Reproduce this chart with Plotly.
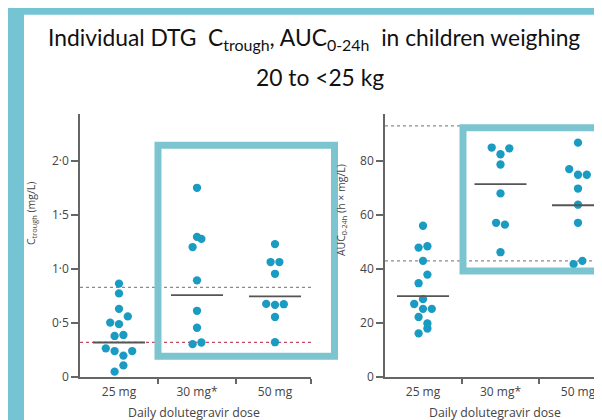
import numpy as np
import plotly.graph_objects as go

# ---------------- data ----------------
doses = ["25 mg", "30 mg*", "50 mg"]

ctrough_25 = [0.048, 0.106, 0.264, 0.239, 0.197, 0.239, 0.379, 0.388, 0.503, 0.488, 0.56, 0.63, 0.773, 0.864]
ctrough_30 = [0.303, 0.318, 0.455, 0.612, 0.894, 1.203, 1.279, 1.297, 1.752]
ctrough_50 = [0.321, 0.555, 0.676, 0.667, 0.673, 0.955, 1.064, 1.064, 1.230]
ctrough_gm = [0.318, 0.757, 0.745]          # geometric means (horizontal bars)
ctrough_refs = [0.83, 0.32]                 # reference lines (grey, red)

auc_25 = [16.1, 17.9, 22.2, 19.8, 27.0, 25.2, 25.2, 28.8, 34.7, 37.9, 43.0, 47.9, 48.4, 56.0]
auc_30 = [46.2, 57.1, 56.4, 68.0, 78.7, 85.0, 82.5, 84.7]
auc_50 = [41.8, 43.0, 57.1, 63.8, 69.8, 77.0, 74.9, 74.9, 86.8]
auc_gm = [29.9, 71.4, 63.6]
auc_refs = [93.0, 43.0]

ctrough_ticks = [0, 0.5, 1.0, 1.5, 2.0]
ctrough_ticktext = ["0", "0·5", "1·0", "1·5", "2·0"]
auc_ticks = [0, 20, 40, 60, 80]
auc_ticktext = ["0", "20", "40", "60", "80"]

# ---------------- layout constants (pixels) ----------------
W, H = 602, 420
Y_TOP, Y_BOT = 108, 376
L_X0, L_X1, L_C0, L_UNIT = 72, 303, 111, 78.0
R_X0, R_X1, R_C0, R_UNIT = 377, 602, 415, 77.5
L_YMAX = 2.4364
R_YMAX = 97.45

DOT = "#1a9bc1"
BOX = "#7cc5d0"
AXIS = "#666666"
TXT = "#444444"
FONT = "Open Sans"


def px(x):
    return x / W


def py(y):
    return 1 - y / H


def swarm(values, px_per_val, px_per_cat, thr_px=9.3, step_px=8.8):
    v = np.asarray(values, dtype=float)
    order = np.argsort(v, kind="stable")
    groups, cur = [], [order[0]]
    for idx in order[1:]:
        if (v[idx] - v[cur[0]]) * px_per_val <= thr_px:
            cur.append(idx)
        else:
            groups.append(cur)
            cur = [idx]
    groups.append(cur)
    off = np.zeros(len(v))
    for g in groups:
        g = sorted(g)
        n = len(g)
        for k, idx in enumerate(g):
            off[idx] = (k - (n - 1) / 2) * step_px / px_per_cat
    return off


fig = go.Figure()

plot_h = Y_BOT - Y_TOP
panels = [
    ("x", "y", [ctrough_25, ctrough_30, ctrough_50], ctrough_gm, plot_h / L_YMAX, L_UNIT),
    ("x2", "y2", [auc_25, auc_30, auc_50], auc_gm, plot_h / R_YMAX, R_UNIT),
]
for xa, ya, groups, gms, ppv, ppc in panels:
    for i, vals in enumerate(groups):
        off = swarm(vals, ppv, ppc)
        fig.add_trace(go.Scatter(
            x=i + off, y=vals, mode="markers", xaxis=xa, yaxis=ya,
            marker=dict(color=DOT, size=8.3, line=dict(width=0)),
            showlegend=False, hoverinfo="y"))
        hw = 26 / ppc
        fig.add_trace(go.Scatter(
            x=[i - hw, i + hw], y=[gms[i], gms[i]], mode="lines",
            xaxis=xa, yaxis=ya, line=dict(color="#555555", width=1.8),
            showlegend=False, hoverinfo="skip"))

axis_common = dict(showgrid=False, zeroline=False, showline=True,
                   linecolor=AXIS, linewidth=1.5,
                   tickfont=dict(family=FONT, size=12, color=TXT))

l_range = [(L_X0 - L_C0) / L_UNIT, (L_X1 - L_C0) / L_UNIT]
r_range = [(R_X0 - R_C0) / R_UNIT, (R_X1 - R_C0) / R_UNIT]

fig.update_layout(
    width=W, height=H,
    margin=dict(l=0, r=0, t=0, b=0),
    paper_bgcolor="#74c4d3",
    plot_bgcolor="rgba(0,0,0,0)",
    xaxis=dict(domain=[px(L_X0), px(L_X1)], range=l_range,
               tickvals=[0, 1, 2], ticktext=doses, ticks="outside",
               ticklen=3, tickcolor="rgba(0,0,0,0)",
               minor=dict(tickvals=[0.5, 1.5, l_range[1]], ticks="outside",
                          ticklen=5, tickcolor=AXIS, tickwidth=1.5),
               anchor="y", **axis_common),
    yaxis=dict(domain=[py(Y_BOT), py(Y_TOP)], range=[0, L_YMAX],
               tickvals=ctrough_ticks, ticktext=ctrough_ticktext,
               ticks="outside", ticklen=7, tickcolor=AXIS, tickwidth=1.5,
               anchor="x", **axis_common),
    xaxis2=dict(domain=[px(R_X0), px(R_X1)], range=r_range,
                tickvals=[0, 1, 2], ticktext=doses, ticks="outside",
                ticklen=3, tickcolor="rgba(0,0,0,0)",
                minor=dict(tickvals=[0.5, 1.5], ticks="outside",
                           ticklen=5, tickcolor=AXIS, tickwidth=1.5),
                anchor="y2", **axis_common),
    yaxis2=dict(domain=[py(Y_BOT), py(Y_TOP)], range=[0, R_YMAX],
                tickvals=auc_ticks, ticktext=auc_ticktext,
                ticks="outside", ticklen=7, tickcolor=AXIS, tickwidth=1.5,
                anchor="x2", **axis_common),
)

shapes = [
    # white slide panel
    dict(type="rect", xref="paper", yref="paper", x0=px(16), x1=1.0,
         y0=0, y1=py(7), fillcolor="white", line=dict(width=0), layer="below"),
]
# reference lines
for ya, refs in (("y", ctrough_refs), ("y2", auc_refs)):
    xa = "x" if ya == "y" else "x2"
    for j, r in enumerate(refs):
        col = "#8a8a8a" if (ya == "y2" or j == 0) else "#c44a63"
        shapes.append(dict(type="line", xref=f"{xa} domain", yref=ya,
                           x0=0, x1=1, y0=r, y1=r, layer="below",
                           line=dict(color=col, width=1.2, dash="dot")))
# highlight boxes
shapes.append(dict(type="rect", xref="paper", yref="paper",
                   x0=px(150), x1=px(326.5), y0=py(355), y1=py(140),
                   line=dict(color=BOX, width=7), fillcolor="rgba(0,0,0,0)"))
shapes.append(dict(type="rect", xref="paper", yref="paper",
                   x0=px(455), x1=px(595), y0=py(268), y1=py(122),
                   line=dict(color=BOX, width=7), fillcolor="rgba(0,0,0,0)"))


def ann(text, x, y, size, family=FONT, color=TXT, angle=0):
    return dict(text=text, x=px(x), y=py(y), xref="paper", yref="paper",
                xanchor="center", yanchor="middle", showarrow=False,
                textangle=angle, font=dict(family=family, size=size, color=color))


annotations = [
    ann("Individual DTG  C<sub>trough</sub>, AUC<sub>0-24h</sub>  in children weighing",
        306, 31, 22.8, "Lato", "#111111"),
    ann("20 to <25 kg", 312, 70, 22.8, "Lato", "#111111"),
    ann("Daily dolutegravir dose", 186, 412, 12.3),
    ann("Daily dolutegravir dose", 487, 412, 12.3),
    ann("C<sub>trough</sub> (mg/L)", 23, 210, 10.5, angle=-90),
    ann("AUC<sub>0-24h</sub> (h × mg/L)", 333, 206, 10.5, angle=-90),
]

fig.update_layout(shapes=shapes, annotations=annotations)
fig.write_html("out.html")
